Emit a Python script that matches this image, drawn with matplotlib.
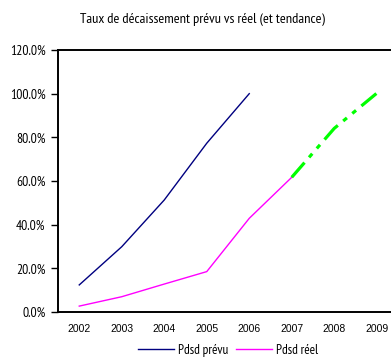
import matplotlib.pyplot as plt
from matplotlib.ticker import FuncFormatter

plt.rcParams['font.family'] = ['PT Sans Narrow', 'DejaVu Sans']
plt.rcParams['lines.scale_dashes'] = False

years = [2002, 2003, 2004, 2005, 2006, 2007, 2008, 2009]
prevu_years = [2002, 2003, 2004, 2005, 2006]
prevu = [12.4, 29.9, 51.3, 77.3, 100.0]
reel_years = [2002, 2003, 2004, 2005, 2006, 2007]
reel = [2.7, 7.0, 12.8, 18.5, 42.9, 61.7]
trend_years = [2007, 2008, 2009]
trend = [61.7, 84.1, 100.2]

fig = plt.figure(figsize=(3.91, 3.58), dpi=100)
# the category axis runs a little past the right edge of the figure
ax = fig.add_axes([58 / 391, 46 / 358, 340 / 391, 262 / 358])

ax.plot(prevu_years, prevu, color='#000080', lw=1.0, label='Pdsd prévu')
ax.plot(reel_years, reel, color='#FF00FF', lw=1.0, label='Pdsd réel')
# trend: dash-dot-dot
ax.plot(trend_years, trend, color='#00FF00', lw=2.3,
        dashes=(14, 5, 3.5, 5, 3.5, 5))

ax.set_xlim(2001.5, 2009.5)
ax.set_ylim(0, 120)
ax.set_xticks(years)
ax.set_yticks(range(0, 121, 20))
ax.yaxis.set_major_formatter(FuncFormatter(lambda v, p: f'{v:.1f}%'))
ax.tick_params(axis='y', direction='out', length=5, width=1, labelsize=9.8, pad=4)
ax.tick_params(axis='x', length=0, labelsize=7.5, pad=9)
for lbl in ax.get_xticklabels():
    lbl.set_family(['Liberation Sans', 'DejaVu Sans'])

for side in ['top', 'left', 'bottom']:
    ax.spines[side].set_linewidth(1.4)
ax.spines['right'].set_visible(False)

fig.text(0.518, 0.945, 'Taux de décaissement prévu vs réel (et tendance)',
         ha='center', va='center', fontsize=10.4)

fig.legend(loc='center', bbox_to_anchor=(0.583, 0.022), ncol=2, frameon=False,
           fontsize=9.5, handlelength=2.7, handletextpad=0.3, columnspacing=0.6,
           borderpad=0)

fig.savefig('out.png', dpi=100)
